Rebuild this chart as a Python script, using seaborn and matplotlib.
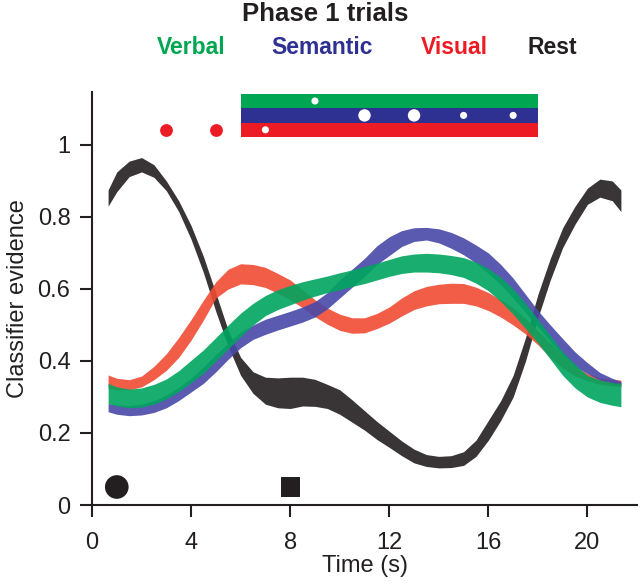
import numpy as np
import pandas as pd
import matplotlib
matplotlib.use("Agg")
import matplotlib.pyplot as plt
import seaborn as sns

# Phase 1 trials: classifier evidence over time (bands = mean +/- SE)
time = [0.65, 1, 1.5, 2, 2.5, 3, 3.5, 4, 4.5, 5, 5.5, 6, 6.5, 7, 7.5, 8, 8.5, 9, 9.5, 10, 10.5,
        11, 11.5, 12, 12.5, 13, 13.5, 14, 14.5, 15, 15.5, 16, 16.5, 17, 17.5, 18, 18.5, 19, 19.5,
        20, 20.5, 21, 21.35]

rest_lo = [0.83, 0.87, 0.912, 0.925, 0.91, 0.873, 0.815, 0.738, 0.645, 0.537, 0.44, 0.36, 0.31, 0.28,
           0.27, 0.268, 0.275, 0.274, 0.268, 0.252, 0.23, 0.208, 0.182, 0.16, 0.137, 0.117, 0.107,
           0.103, 0.104, 0.11, 0.135, 0.18, 0.235, 0.30, 0.40, 0.52, 0.625, 0.715, 0.78, 0.835,
           0.855, 0.845, 0.815]
rest_hi = [0.875, 0.925, 0.955, 0.965, 0.945, 0.90, 0.845, 0.776, 0.69, 0.588, 0.485, 0.41, 0.37,
           0.355, 0.353, 0.355, 0.355, 0.349, 0.335, 0.32, 0.292, 0.262, 0.232, 0.205, 0.178, 0.155,
           0.14, 0.135, 0.137, 0.148, 0.18, 0.235, 0.29, 0.36, 0.465, 0.585, 0.685, 0.77, 0.83,
           0.88, 0.905, 0.90, 0.875]

visual_lo = [0.324, 0.32, 0.32, 0.328, 0.348, 0.374, 0.41, 0.458, 0.514, 0.575, 0.60, 0.614, 0.612,
             0.604, 0.588, 0.57, 0.548, 0.523, 0.502, 0.485, 0.477, 0.478, 0.49, 0.505, 0.525, 0.543,
             0.553, 0.559, 0.56, 0.56, 0.553, 0.54, 0.522, 0.50, 0.475, 0.445, 0.41, 0.38, 0.358,
             0.345, 0.335, 0.331, 0.329]
visual_hi = [0.361, 0.352, 0.348, 0.358, 0.385, 0.42, 0.465, 0.515, 0.569, 0.62, 0.655, 0.67, 0.668,
             0.66, 0.643, 0.625, 0.598, 0.57, 0.547, 0.53, 0.52, 0.52, 0.532, 0.55, 0.575, 0.595,
             0.607, 0.613, 0.616, 0.615, 0.605, 0.59, 0.57, 0.548, 0.518, 0.484, 0.45, 0.415, 0.385,
             0.365, 0.353, 0.349, 0.347]

semantic_lo = [0.259, 0.252, 0.248, 0.25, 0.257, 0.27, 0.29, 0.314, 0.338, 0.37, 0.405, 0.437, 0.46,
               0.474, 0.486, 0.497, 0.508, 0.522, 0.545, 0.575, 0.605, 0.635, 0.668, 0.693, 0.718,
               0.732, 0.736, 0.728, 0.713, 0.695, 0.672, 0.643, 0.612, 0.575, 0.535, 0.495, 0.455,
               0.415, 0.385, 0.365, 0.347, 0.338, 0.333]
semantic_hi = [0.282, 0.278, 0.276, 0.28, 0.29, 0.305, 0.327, 0.352, 0.384, 0.418, 0.45, 0.48, 0.50,
               0.516, 0.527, 0.538, 0.55, 0.565, 0.59, 0.625, 0.655, 0.685, 0.72, 0.745, 0.762, 0.77,
               0.771, 0.767, 0.757, 0.742, 0.722, 0.70, 0.668, 0.63, 0.585, 0.54, 0.50, 0.462, 0.425,
               0.395, 0.368, 0.352, 0.343]

verbal_lo = [0.282, 0.275, 0.27, 0.272, 0.28, 0.295, 0.315, 0.34, 0.366, 0.40, 0.434, 0.468, 0.50,
             0.526, 0.543, 0.556, 0.569, 0.58, 0.59, 0.598, 0.607, 0.615, 0.625, 0.635, 0.643, 0.647,
             0.647, 0.645, 0.64, 0.632, 0.616, 0.595, 0.565, 0.53, 0.49, 0.45, 0.405, 0.36, 0.325,
             0.30, 0.285, 0.277, 0.273]
verbal_hi = [0.338, 0.328, 0.322, 0.325, 0.335, 0.35, 0.373, 0.402, 0.431, 0.465, 0.50, 0.533, 0.56,
             0.582, 0.598, 0.61, 0.62, 0.628, 0.636, 0.645, 0.653, 0.662, 0.672, 0.682, 0.692, 0.697,
             0.699, 0.697, 0.693, 0.687, 0.675, 0.657, 0.632, 0.60, 0.56, 0.515, 0.47, 0.425, 0.39,
             0.36, 0.347, 0.34, 0.338]

conditions = ["Rest", "Visual", "Semantic", "Verbal"]   # draw order
legend_order = ["Verbal", "Semantic", "Visual", "Rest"]
band_colors = {"Rest": "#231f20", "Visual": "#f04b32", "Semantic": "#4848a8", "Verbal": "#00a560"}
text_colors = {"Verbal": "#00a651", "Semantic": "#2e3192", "Visual": "#ed1c24", "Rest": "#231f20"}

# event markers at the bottom
event_t = [1, 8]
event_v = [0.05, 0.05]
event_kind = ["cue", "probe"]

# significance strip above the curves
strip_start, strip_end = 6, 18
strip_levels = {"Verbal": 1.122, "Semantic": 1.082, "Visual": 1.042}
strip_colors = {"Verbal": "#00a651", "Semantic": "#2e3192", "Visual": "#ed1c24"}
red_dot_t = [3, 5]
white_dot_t = [9, 11, 13, 15, 17, 7]
white_dot_row = ["Verbal", "Semantic", "Semantic", "Semantic", "Semantic", "Visual"]
white_dot_big = [False, True, True, False, False, False]

# long table: two rows per time point (lower / upper edge of band)
rows = []
for name, lo, hi in [("Rest", rest_lo, rest_hi), ("Visual", visual_lo, visual_hi),
                     ("Semantic", semantic_lo, semantic_hi), ("Verbal", verbal_lo, verbal_hi)]:
    for t, a, b in zip(time, lo, hi):
        rows.append({"time": t, "evidence": a, "condition": name})
        rows.append({"time": t, "evidence": b, "condition": name})
df = pd.DataFrame(rows)

sns.set_theme(style="ticks")
plt.rcParams["font.family"] = ["Liberation Sans", "DejaVu Sans"]

fig = plt.figure(figsize=(6.4, 5.85), dpi=100)
ax = fig.add_axes([92 / 640, 1 - 505 / 585, 545 / 640, 413 / 585])

# band = min..max of the two edges per time point
sns.lineplot(data=df, x="time", y="evidence", hue="condition", hue_order=conditions,
             palette=band_colors, estimator="mean", errorbar=("pi", 100), linewidth=0,
             err_kws={"alpha": 0.9, "linewidth": 0}, legend=False, ax=ax)

# bottom event markers
ev = pd.DataFrame({"t": event_t, "v": event_v, "kind": event_kind})
sns.scatterplot(data=ev, x="t", y="v", style="kind", markers={"cue": "o", "probe": "s"},
                size="kind", sizes={"cue": 290, "probe": 190}, color="#231f20",
                linewidth=0, legend=False, ax=ax, clip_on=False)

# strip bars
for name, lvl in strip_levels.items():
    ax.barh(lvl, strip_end - strip_start, left=strip_start, height=0.04,
            color=strip_colors[name], linewidth=0)

sns.scatterplot(x=red_dot_t, y=[strip_levels["Visual"]] * len(red_dot_t), color="#ed1c24",
                s=85, linewidth=0, ax=ax, legend=False)
wd = pd.DataFrame({"t": white_dot_t, "v": [strip_levels[r] for r in white_dot_row],
                   "big": white_dot_big})
sns.scatterplot(data=wd, x="t", y="v", size="big", sizes={True: 80, False: 26},
                color="white", linewidth=0, ax=ax, legend=False, zorder=5)

ax.set_xlim(0, 22)
ax.set_ylim(0, 1.147)
ax.set_xticks([0, 4, 8, 12, 16, 20])
ax.set_yticks([0, 0.2, 0.4, 0.6, 0.8, 1.0])
ax.set_yticklabels(["0", "0.2", "0.4", "0.6", "0.8", "1"])
ax.tick_params(axis="both", length=8.5, width=1.5, labelsize=17, color="#231f20",
               labelcolor="#231f20", pad=7)
ax.tick_params(axis="x", pad=11)
ax.set_xlabel("Time (s)", fontsize=17, color="#231f20", labelpad=1)
ax.set_ylabel("Classifier evidence", fontsize=17, color="#231f20", labelpad=6)
sns.despine(ax=ax)
for s in ["left", "bottom"]:
    ax.spines[s].set_linewidth(1.5)
    ax.spines[s].set_color("#231f20")

fig.text(0.508, 1 - 14 / 585, "Phase 1 trials", ha="center", va="center",
         fontsize=18.5, fontweight="bold", color="#231f20")
legend_x = [191, 322, 454, 552]
for name, x in zip(legend_order, legend_x):
    fig.text(x / 640, 1 - 48 / 585, name, ha="center", va="center", fontsize=16.5,
             fontweight="bold", color=text_colors[name])

fig.savefig("out.png", dpi=100)
